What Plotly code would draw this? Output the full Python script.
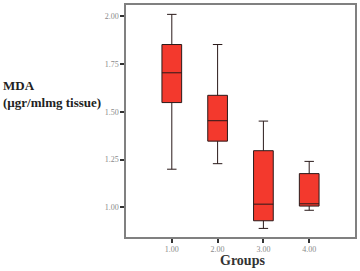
import plotly.graph_objects as go

groups = [1, 2, 3, 4]
tick_labels = ["1.00", "2.00", "3.00", "4.00"]
lower_whisker = [1.20, 1.229, 0.890, 0.985]
q1 = [1.549, 1.347, 0.930, 1.007]
median = [1.705, 1.454, 1.017, 1.019]
q3 = [1.853, 1.587, 1.297, 1.177]
upper_whisker = [2.011, 1.853, 1.452, 1.241]
y_ticks = [1.00, 1.25, 1.50, 1.75, 2.00]
y_tick_labels = ["1.00", "1.25", "1.50", "1.75", "2.00"]

fig = go.Figure()
fig.add_trace(go.Box(
    x=groups, q1=q1, median=median, q3=q3,
    lowerfence=lower_whisker, upperfence=upper_whisker,
    width=0.43, whiskerwidth=0.48,
    fillcolor="#F3392D", line=dict(color="#2a1a1a", width=1),
    boxpoints=False, showlegend=False,
))

serif = "Liberation Serif, Times New Roman, serif"
fig.update_layout(
    width=360, height=271,
    margin=dict(l=126, r=3, t=4, b=34),
    plot_bgcolor="white", paper_bgcolor="white",
    font=dict(family=serif, color="#888888", size=8),
    xaxis=dict(range=[0, 5], tickvals=groups, ticktext=tick_labels,
               showgrid=False, zeroline=False, showline=True, mirror=True,
               linecolor="#808080", linewidth=1.5,
               ticks="outside", ticklen=4, tickwidth=2, tickcolor="#333333",
               tickfont=dict(family=serif, size=8, color="#8a8a8a")),
    yaxis=dict(range=[0.845, 2.06], tickvals=y_ticks, ticktext=y_tick_labels,
               showgrid=False, zeroline=False, showline=True, mirror=True,
               linecolor="#808080", linewidth=1.5,
               ticks="outside", ticklen=4, tickwidth=2, tickcolor="#333333",
               tickfont=dict(family=serif, size=8, color="#8a8a8a")),
    annotations=[
        dict(text="<b>MDA</b><br><b>(µgr/mlmg tissue)</b>",
             xref="paper", yref="paper", x=-126/231, y=(237-93)/233,
             xanchor="left", yanchor="middle", align="left", showarrow=False,
             font=dict(family=serif, size=13, color="#222222")),
        dict(text="<b>Groups</b>",
             xref="paper", yref="paper", x=(244-126)/231, y=(237-270)/233,
             xanchor="center", yanchor="bottom", showarrow=False,
             font=dict(family=serif, size=14, color="#333333")),
    ],
)

fig.write_html("out.html")
